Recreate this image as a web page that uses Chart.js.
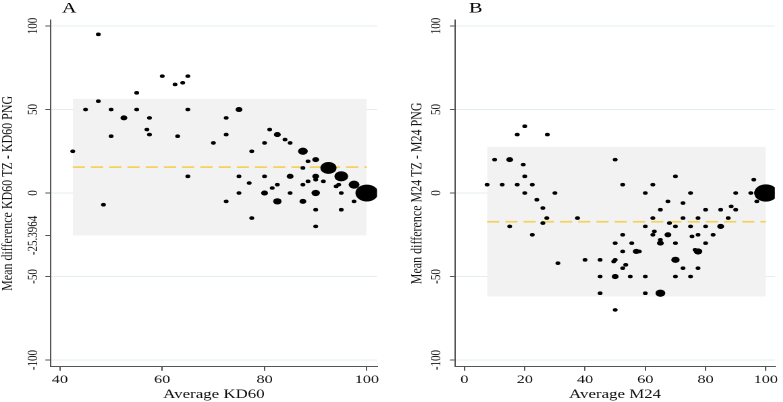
<!DOCTYPE html>
<html><head><meta charset="utf-8">
<script src="https://cdn.jsdelivr.net/npm/chart.js@4.4.1/dist/chart.umd.min.js"></script>
<style>
html,body{margin:0;padding:0;background:#fff;overflow:hidden;width:783px;height:402px;}
.panel{position:absolute;top:0;transform-origin:0 0;transform:scaleX(1.35);}
#pa{left:0;width:290px;height:402px}
#pb{left:391px;width:293px;height:402px}
canvas{display:block}
</style></head><body>
<div class="panel" id="pa"><canvas id="ca" width="290" height="402"></canvas></div>
<div class="panel" id="pb"><canvas id="cb" width="293" height="402"></canvas></div>
<script>
// ---------- Panel A (KD60) ----------
const avgA   = [42.5,45,47.5,47.5,48.5,50,50,52.5,55,55,57,57.5,57.5,60,62.5,63,64,65,65,65,70,72.5,72.5,72.5,75,75,75,77,77.5,77.5,80,80,80,81,81.5,82.5,82.5,82.5,84,85,85,85,87.5,87.5,87.5,87.5,88.5,88.5,90,90,90,90,90,90,91.5,92.5,94,94.5,95,95,95,97.5,97.5,100];
const diffA  = [25,50,95,55,-7,50,34,45,60,50,38,45,35,70,65,34,66,70,50,10,30,45,35,-5,50,10,0,6,25,-15,30,10,0,38,3,35,5,-5,32,30,10,0,25,15,5,-5,19,7,20,10,8,0,-10,-20,7,15,4,5,10,0,-10,5,-5,0];
const countA = [1,1,1,1,1,1,1,2,1,1,1,1,1,1,1,1,1,1,1,1,1,1,1,1,2,1,1,1,1,1,1,1,2,1,1,2,1,3,1,1,2,1,4,1,1,2,1,1,2,2,1,3,1,1,1,11,1,1,8,1,1,5,1,22];
const meanA = 15.5;
const limitsA = [-25.3964, 56.3964];
const yTicksA = [-100,-50,-25.3964,0,50,100];
const gridA = [-100,-50,0,50,100];
const xTicksA = [40,60,80,100];

// ---------- Panel B (M24) ----------
const avgB   = [7.5,10,12.5,15,15,17.5,17.5,19.5,20,20,20,22.5,22.5,24,26,26,27.3,27.5,30,31,37.5,40,45,45,45,49.5,50,50,50,50,50,52.5,52.5,52.5,52.5,53.5,55,55.5,57,58,60,60,60,60,62.5,62.5,62.5,63,65,65,65,65,67.5,67.5,68,70,70,70,70,70,72.5,72.5,72.5,75,75,75,75.5,76.5,77.5,77.5,77.5,77.5,80,80,80,82.5,85,85,87.5,88.5,90,90,95,96,97,100];
const diffB  = [5,20,5,20,-20,35,5,17,40,10,0,5,-25,-4,-9,-18,-15,35,0,-42,-15,-40,-40,-50,-60,-41,-40,20,-30,-50,-70,5,-25,-35,-45,-43,-50,-30,-35,-35,0,-20,-50,-60,5,-15,-25,-23,-10,-28,-30,-60,-5,-25,-18,10,-20,-30,-40,-50,-6,-15,-45,0,-20,-50,-26,-34,-35,-15,-25,-45,-10,-20,-30,-25,-10,-20,-15,-8,-10,0,0,8,-5,0];
const countB = [1,1,1,2,1,1,1,1,1,1,1,1,1,1,1,1,1,1,1,1,1,1,1,1,1,1,1,1,1,2,1,1,1,1,1,1,1,1,2,1,1,1,1,1,1,1,1,1,1,1,2,4,1,2,1,1,1,1,3,1,1,1,1,1,1,1,1,1,3,1,1,1,1,1,1,1,1,2,1,1,1,1,1,1,1,23];
const meanB = -17.2;
const limitsB = [-62.0, 27.6];
const yTicksB = [-100,-50,0,50,100];
const gridB = [-100,-50,0,50,100];
const xTicksB = [0,20,40,60,80,100];

const FONT = '"Liberation Serif", "Times New Roman", serif';
Chart.defaults.font.family = FONT;

const letterPlugin = {
  id: 'letter',
  afterDraw(chart, args, opts) {
    const ctx = chart.ctx;
    ctx.save();
    ctx.font = '15px ' + FONT;
    ctx.fillStyle = '#000';
    ctx.textBaseline = 'alphabetic';
    ctx.textAlign = 'left';
    ctx.fillText(opts.text, opts.x, opts.y);
    ctx.restore();
  }
};

function build(id, p) {
  const xmin = Math.min(...p.avg), xmax = Math.max(...p.avg);
  const pts = p.avg.map((x, i) => ({x: x, y: p.diff[i]}));
  return new Chart(document.getElementById(id), {
    type: 'scatter',
    data: {
      datasets: [
        { data: pts, backgroundColor: '#000', borderWidth: 0, borderColor: 'rgba(0,0,0,0)',
          pointRadius: c => 1.8 * Math.sqrt(p.count[c.dataIndex] || 1) },
        { type: 'line', data: [{x: xmin, y: p.mean}, {x: xmax, y: p.mean}],
          borderColor: '#f4d25e', borderWidth: 1.8, borderDash: [9, 4.5], pointRadius: 0, fill: false },
        { type: 'line', data: [{x: xmin, y: p.limits[1]}, {x: xmax, y: p.limits[1]}],
          borderColor: 'rgba(0,0,0,0)', borderWidth: 0, pointRadius: 0,
          backgroundColor: '#f2f2f2', fill: '+1' },
        { type: 'line', data: [{x: xmin, y: p.limits[0]}, {x: xmax, y: p.limits[0]}],
          borderColor: 'rgba(0,0,0,0)', borderWidth: 0, pointRadius: 0, fill: false }
      ]
    },
    options: {
      responsive: false,
      animation: false,
      devicePixelRatio: 2,
      events: [],
      layout: { padding: { left: 0, right: p.padRight, top: 20, bottom: 0 } },
      plugins: { legend: { display: false }, tooltip: { enabled: false }, title: { display: false },
        letter: { text: p.letter, x: p.letterX, y: 12.5 } },
      scales: {
        x: {
          type: 'linear', min: p.xmin, max: p.xmax,
          afterBuildTicks: s => { s.ticks = p.xTicks.map(v => ({value: v})); },
          afterFit: s => { s.height = 35.3; },
          grid: { drawOnChartArea: false, drawTicks: true, tickLength: 4, tickColor: '#555' },
          border: { display: true, color: '#555', width: 1 },
          ticks: { font: { size: 12 }, color: '#111', padding: 2, maxRotation: 0, autoSkip: false },
          title: { display: true, text: p.xTitle, font: { size: 12.5 }, color: '#111', padding: { top: 0, bottom: 0 } }
        },
        y: {
          type: 'linear', min: -104, max: 103.6,
          afterBuildTicks: s => { s.ticks = p.yTicks.map(v => ({value: v})); },
          afterFit: s => { s.width = p.yWidth; },
          grid: { color: c => (c.tick && p.grid.includes(c.tick.value)) ? '#e3edf0' : 'rgba(0,0,0,0)',
                  drawTicks: true, tickLength: 4, tickColor: '#555' },
          border: { display: true, color: '#555', width: 1 },
          ticks: { font: { size: 11 }, color: '#111', minRotation: 90, maxRotation: 90, crossAlign: 'center',
                   padding: p.yPad, autoSkip: false, callback: v => String(v) },
          title: { display: true, text: p.yTitle, font: { size: 12 }, color: '#111', padding: { top: p.yTitlePad, bottom: 0 } }
        }
      }
    },
    plugins: [letterPlugin]
  });
}

build('ca', { avg: avgA, diff: diffA, count: countA, mean: meanA, limits: limitsA,
  yTicks: yTicksA, grid: gridA, xTicks: xTicksA, xmin: 38.2, xmax: 102,
  xTitle: 'Average KD60', yTitle: 'Mean difference KD60 TZ - KD60 PNG',
  letter: 'A', letterX: 45.9, padRight: 10.7, yWidth: 37.6, yPad: -10.5, yTitlePad: -1.3 });

build('cb', { avg: avgB, diff: diffB, count: countB, mean: meanB, limits: limitsB,
  yTicks: yTicksB, grid: gridB, xTicks: xTicksB, xmin: -3.06, xmax: 103,
  xTitle: 'Average M24', yTitle: 'Mean difference M24 TZ - M24 PNG',
  letter: 'B', letterX: 57.8, padRight: 4.1, yWidth: 47.6, yPad: -0.3, yTitlePad: 12.1 });
</script>
</body></html>
